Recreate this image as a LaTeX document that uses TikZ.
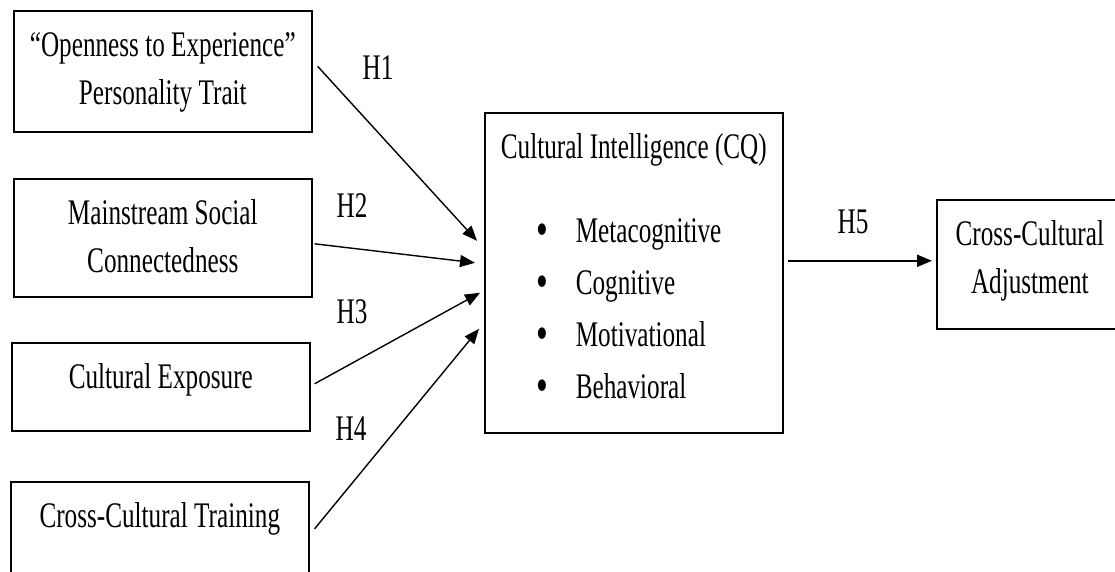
\documentclass[tikz,border=0pt]{standalone}
\usepackage{fontspec}
\setmainfont[FakeStretch=0.7]{Liberation Serif}
\usetikzlibrary{arrows.meta,calc}

\newcommand{\inbox}[3]{\parbox[c][#2pt][t]{#1pt}{\centering\rule{0pt}{46pt}#3}}
\newcommand{\cqitem}[1]{\hspace*{52pt}\makebox[39pt][l]{\raisebox{-3pt}{\fontsize{48}{48}\selectfont •}}#1}

\begin{document}
\begin{tikzpicture}[x=1pt,y=-1pt,font=\fontsize{36}{48}\selectfont,
    box/.style={draw,line width=1.6pt,inner sep=0pt,anchor=north west},
    link/.style={line width=1.4pt,-{Triangle[length=15pt,width=12pt]}},
    hyp/.style={anchor=base}]
  \useasboundingbox (0,0) rectangle (1115,572);
  \clip (0,0) rectangle (1115,572);

  \node[box] (open) at (13,10) {\inbox{298}{121}{“Openness to Experience”\\Personality Trait}};
  \node[box] (main) at (13,178) {\inbox{298}{118}{Mainstream Social\\Connectedness}};
  \node[box] (expo) at (11,342) {\inbox{298}{88}{Cultural Exposure}};
  \node[box] (train) at (10,481) {\inbox{298}{94}{Cross-Cultural Training}};

  \node[box] (cq) at (484,112) {\parbox[c][320pt][t]{298pt}{\raggedright
      \makebox[298pt]{\rule{0pt}{46pt}Cultural Intelligence (CQ)}\\[36pt]
      \cqitem{Metacognitive}\\[4pt]
      \cqitem{Cognitive}\\[4pt]
      \cqitem{Motivational}\\[4pt]
      \cqitem{Behavioral}}};

  \node[box] (adj) at (936,199) {\inbox{186}{129}{Cross-Cultural\\Adjustment}};

  \draw[link] ($(open.east)+(5,-5)$) -- ($(cq.west)+(-7,-32)$);
  \draw[link] ($(main.east)+(2,6)$) -- ($(cq.west)+(-9,-10)$);
  \draw[link] ($(expo.east)+(4,-3)$) -- ($(cq.west)+(-4,20)$);
  \draw[link] ($(train.east)+(5,0)$) -- ($(cq.west)+(-5,56)$);
  \draw[link,line width=2pt] ($(cq.east)+(4,-12)$) -- ($(adj.west)+(-4,-3.5)$);

  \node[hyp] (h1) at (378,80) {H1};
  \node[hyp] (h2) at (352,217) {H2};
  \node[hyp] (h3) at (352,323) {H3};
  \node[hyp] (h4) at (351,440) {H4};
  \node[hyp] (h5) at (853,233) {H5};
\end{tikzpicture}
\end{document}
